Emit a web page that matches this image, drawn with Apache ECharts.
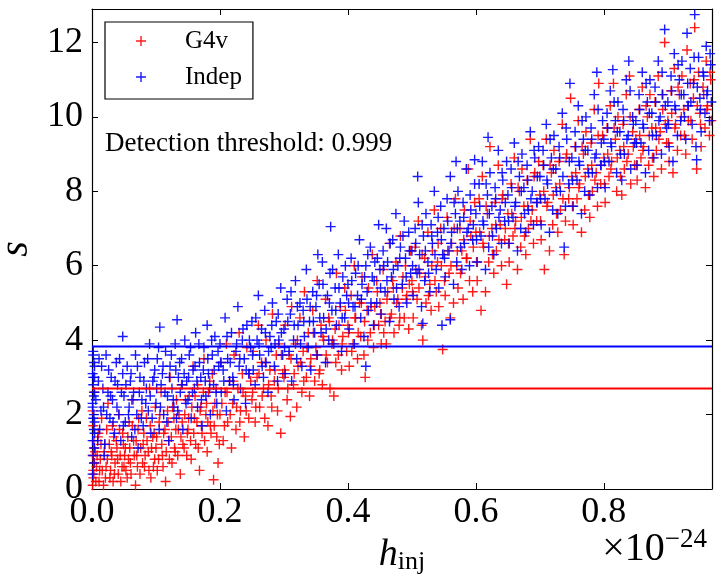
<!DOCTYPE html>
<html lang="en">
<head>
    <meta charset="UTF-8">
    <title>Detection threshold</title>
    <script src="https://cdn.jsdelivr.net/npm/echarts@6/dist/echarts.min.js"></script>
    <style>
        html, body { margin: 0; padding: 0; background: #fff; }
        #container { width: 722px; height: 584px; }
    </style>
</head>
<body>
<div id="container"></div>
<script>
    // h_inj in units of 1e-24, s = statistic
    var xTicks = [0, 0.2, 0.4, 0.6, 0.8];
    var yTicks = [0, 2, 4, 6, 8, 10, 12];
    var thresholdIndep = 3.83;
    var thresholdG4v = 2.70;

    var indepPoints = [
        [0.001,0.4],[0.002,0.9],[0.001,1.3],[0.003,1.6],[0.002,1.9],[0.001,2.2],[0.003,2.5],[0.002,2.8],[0.001,3.1],[0.003,3.4],
        [0.002,3.7],[0.004,1.1],[0.003,2.0],[0.004,2.6],[0.002,3.0],[0.003,0.7],[0.004,1.5],[0.001,2.3],[0.004,3.3],[0.002,3.6],
        [0.01,2.9],[0.012,1.6],[0.015,3.3],[0.018,2.2],[0.02,1.2],[0.022,3.6],[0.025,2.6],[0.028,1.9],[0.03,3.0],[0.032,2.4],
        [0.035,1.5],[0.038,3.4],[0.04,2.8],[0.042,2.0],[0.045,1.3],[0.048,3.1],[0.05,2.5],[0.048,4.1],
        [0.052,1.8],[0.055,3.3],[0.058,2.2],[0.06,2.9],[0.062,1.4],[0.065,2.6],[0.068,3.6],[0.07,2.0],[0.072,1.1],[0.075,3.0],
        [0.078,2.4],[0.08,1.7],[0.082,3.4],[0.085,2.7],[0.088,2.1],[0.09,3.9],[0.092,1.5],[0.095,2.9],[0.098,3.2],
        [0.1,2.3],[0.102,3.5],[0.105,1.6],[0.106,4.35],[0.108,2.8],[0.11,3.1],[0.112,2.0],[0.115,3.7],[0.118,2.5],[0.12,1.3],
        [0.122,3.3],[0.125,2.7],[0.128,2.2],[0.13,3.9],[0.132,1.9],[0.133,4.55],[0.135,3.0],[0.138,2.6],[0.14,3.5],[0.142,1.6],
        [0.145,4.0],[0.148,2.9],
        [0.15,2.4],[0.152,3.6],[0.155,1.9],[0.158,3.2],[0.16,2.7],[0.162,4.2],[0.165,2.2],[0.168,3.4],[0.17,3.0],[0.172,1.7],
        [0.175,3.8],[0.178,2.5],[0.18,4.4],[0.182,3.1],[0.185,2.0],[0.188,3.6],[0.19,2.8],[0.192,4.1],[0.195,2.3],[0.198,3.3],
        [0.2,3.9],[0.202,2.6],[0.205,3.2],[0.208,4.6],[0.21,2.1],[0.212,3.5],[0.215,2.9],[0.218,4.2],[0.22,3.0],[0.222,2.4],
        [0.225,3.7],[0.228,4.9],[0.23,3.3],[0.232,2.7],[0.235,4.0],[0.238,3.5],[0.24,2.3],[0.242,4.4],[0.245,3.1],[0.248,3.8],
        [0.25,4.5],[0.252,3.2],[0.255,2.8],[0.258,4.0],[0.26,5.2],[0.262,3.6],[0.265,4.3],[0.268,3.0],[0.27,4.8],[0.272,3.4],
        [0.275,2.6],[0.278,4.1],[0.28,3.8],[0.282,5.0],[0.285,3.3],[0.288,4.5],[0.29,2.9],[0.292,4.0],[0.295,5.4],[0.298,3.6],
        [0.3,4.3],[0.302,3.1],[0.305,5.1],[0.308,3.7],[0.31,4.7],[0.312,2.9],[0.315,4.0],[0.318,5.6],[0.32,3.5],[0.322,4.4],
        [0.325,5.0],[0.328,3.3],[0.33,4.8],[0.332,4.1],[0.335,5.9],[0.338,3.8],[0.34,4.5],[0.342,3.2],[0.345,5.3],[0.348,4.2],
        [0.35,4.9],[0.352,3.6],[0.353,6.3],[0.355,5.5],[0.358,4.2],[0.36,6.1],[0.362,4.6],[0.365,3.4],[0.368,5.2],[0.37,4.0],
        [0.372,5.8],[0.373,7.05],[0.375,4.8],[0.378,3.9],[0.38,5.4],[0.382,4.4],[0.385,6.3],[0.388,5.0],[0.39,3.7],[0.392,5.7],
        [0.395,4.6],[0.398,5.2],
        [0.4,5.5],[0.402,4.3],[0.405,6.2],[0.408,4.9],[0.41,3.9],[0.412,5.8],[0.415,5.2],[0.418,6.7],[0.42,4.6],[0.422,5.5],
        [0.425,4.1],[0.428,3.3],[0.428,6.0],[0.43,5.3],[0.432,4.8],[0.435,6.5],[0.438,5.7],[0.44,4.4],[0.442,6.1],[0.445,5.0],
        [0.448,7.1],
        [0.45,5.9],[0.452,4.7],[0.455,6.4],[0.458,5.3],[0.46,7.0],[0.462,6.1],[0.465,4.5],[0.468,5.7],[0.47,6.7],[0.472,5.1],
        [0.475,7.4],[0.478,6.0],[0.48,4.9],[0.482,6.5],[0.485,5.5],[0.488,7.2],[0.49,6.2],[0.492,5.0],[0.495,6.9],[0.498,5.8],
        [0.5,6.4],[0.502,5.2],[0.505,7.0],[0.508,5.8],[0.509,8.4],[0.51,7.7],[0.512,6.3],[0.515,4.9],[0.517,4.45],[0.518,6.8],
        [0.52,5.6],[0.522,7.4],[0.525,6.1],[0.528,5.3],[0.53,7.1],[0.532,6.6],[0.535,8.0],[0.538,5.9],[0.54,6.9],[0.542,5.4],
        [0.545,7.6],[0.547,4.4],[0.548,6.3],
        [0.55,7.0],[0.552,5.7],[0.555,7.8],[0.558,6.4],[0.56,8.4],[0.56,4.55],[0.562,6.9],[0.565,5.5],[0.568,7.4],[0.569,8.8],
        [0.57,6.1],[0.572,8.0],[0.575,7.2],[0.578,5.9],[0.58,7.7],[0.582,6.6],[0.585,8.6],[0.588,7.0],[0.59,6.0],[0.592,7.5],
        [0.595,6.7],[0.598,8.2],[0.598,8.85],
        [0.6,7.4],[0.602,6.1],[0.605,8.2],[0.608,6.8],[0.61,8.8],[0.612,7.1],[0.615,5.9],[0.618,7.9],[0.619,9.45],[0.62,6.5],
        [0.622,8.5],[0.625,7.6],[0.628,6.3],[0.63,8.1],[0.632,7.0],[0.635,9.1],[0.638,7.5],[0.64,6.6],[0.642,8.3],[0.645,7.2],
        [0.648,8.8],
        [0.65,7.9],[0.652,6.6],[0.655,8.6],[0.658,7.3],[0.66,9.3],[0.662,7.7],[0.665,6.4],[0.668,8.4],[0.67,7.0],[0.672,9.0],
        [0.675,8.1],[0.678,6.9],[0.68,8.7],[0.682,7.5],[0.685,9.6],[0.688,8.0],[0.69,7.1],[0.692,8.9],[0.695,7.7],[0.698,9.2],
        [0.7,8.4],[0.702,7.1],[0.705,9.1],[0.708,7.8],[0.71,9.8],[0.712,8.2],[0.715,6.9],[0.718,8.9],[0.72,7.5],[0.722,9.5],
        [0.725,8.6],[0.728,7.4],[0.73,9.2],[0.732,8.0],[0.735,10.1],[0.738,6.5],[0.74,7.6],[0.742,9.4],[0.745,8.2],[0.747,10.9],
        [0.75,8.9],[0.752,7.6],[0.755,9.6],[0.758,8.3],[0.76,10.3],[0.762,8.7],[0.765,7.4],[0.768,9.4],[0.77,8.0],[0.772,10.0],
        [0.775,9.1],[0.778,7.9],[0.78,9.7],[0.782,8.5],[0.785,10.6],[0.788,9.0],[0.789,11.2],[0.79,8.1],[0.795,8.7],[0.798,9.9],
        [0.8,9.4],[0.802,8.1],[0.805,10.1],[0.808,8.8],[0.81,10.7],[0.812,9.2],[0.814,11.27],[0.818,9.9],[0.82,8.5],[0.822,10.4],
        [0.825,9.6],[0.828,8.3],[0.83,10.2],[0.832,9.0],[0.835,11.0],[0.838,9.5],[0.839,11.5],[0.842,8.6],[0.845,10.0],[0.848,9.3],
        [0.85,9.9],[0.852,8.7],[0.855,10.6],[0.858,9.3],[0.86,11.2],[0.862,9.7],[0.865,8.5],[0.868,10.4],[0.87,9.1],[0.872,11.0],
        [0.875,10.1],[0.878,8.9],[0.88,10.8],[0.882,9.5],[0.885,11.5],[0.888,10.0],[0.89,9.0],[0.892,10.6],[0.895,12.35],[0.898,9.7],
        [0.9,10.4],[0.902,9.2],[0.905,11.1],[0.908,8.8],[0.91,11.7],[0.912,10.2],[0.915,9.5],[0.918,11.0],[0.92,9.9],[0.922,11.5],
        [0.925,10.6],[0.928,9.4],[0.93,12.25],[0.932,10.3],[0.935,11.3],[0.938,9.8],[0.94,10.9],[0.942,12.75],[0.945,8.85],[0.944,9.2],
        [0.948,11.6],[0.95,10.5],[0.952,9.6],[0.955,11.2],[0.958,10.1],[0.96,11.9],[0.962,10.7],[0.965,9.9],[0.967,11.4],
        // denser core of the band
        [0.004,1.8],[0.004,3.0],[0.006,2.4],[0.009,1.3],[0.011,3.5],[0.014,2.1],[0.017,2.7],[0.019,0.9],[0.023,2.0],[0.026,3.2],
        [0.029,2.5],[0.033,1.8],[0.036,2.9],[0.039,2.2],[0.043,3.5],[0.046,2.6],[0.049,1.7],[0.053,2.8],[0.057,2.0],[0.061,3.1],
        [0.064,2.4],[0.067,1.6],[0.071,3.3],[0.074,2.6],[0.077,1.9],[0.081,2.9],[0.084,2.3],[0.087,3.5],[0.091,2.5],[0.094,1.9],
        [0.097,3.0],[0.101,2.7],[0.104,3.8],[0.107,2.2],[0.111,3.3],[0.114,2.6],[0.117,1.8],[0.121,3.0],[0.124,3.6],[0.127,2.4],
        [0.131,3.2],[0.134,2.1],[0.137,3.4],[0.141,2.8],[0.144,3.1],[0.147,2.3],[0.151,3.0],[0.154,3.8],[0.157,2.6],[0.161,3.3],
        [0.164,2.9],[0.167,3.9],[0.171,2.4],[0.174,3.2],[0.177,2.9],[0.181,3.5],[0.184,2.7],[0.187,4.0],[0.191,3.2],[0.194,2.6],
        [0.197,3.7],[0.201,3.4],[0.206,2.9],[0.211,4.1],[0.216,3.4],[0.221,2.8],[0.226,3.9],[0.231,3.5],[0.236,4.3],[0.241,3.2],
        [0.246,4.0],[0.251,3.6],[0.256,4.6],[0.261,3.9],[0.266,3.3],[0.271,4.2],[0.276,3.7],[0.281,4.4],[0.286,3.9],[0.291,4.7],
        [0.296,4.2],[0.301,3.8],[0.306,4.5],[0.311,5.3],[0.316,4.4],[0.321,4.9],[0.326,3.9],[0.331,4.5],[0.336,5.1],[0.341,4.9],
        [0.346,4.5],[0.351,5.2],[0.356,4.6],[0.361,5.5],[0.366,4.3],[0.371,5.0],[0.376,5.9],[0.381,4.8],[0.386,5.4],[0.391,4.6],
        [0.396,6.0],[0.401,5.0],[0.406,5.6],[0.411,4.9],[0.416,6.0],[0.421,5.1],[0.426,5.7],[0.431,6.3],[0.436,5.0],[0.441,5.6],
        [0.446,6.2],[0.451,5.4],[0.456,6.0],[0.461,5.6],[0.466,6.6],[0.471,5.9],[0.476,5.4],[0.481,6.2],[0.486,6.8],[0.491,5.7],
        [0.496,6.4],[0.501,6.0],[0.506,6.6],[0.511,5.9],[0.516,7.1],[0.521,6.4],[0.526,5.8],[0.531,6.8],[0.536,6.3],[0.541,7.3],
        [0.546,6.7],[0.551,6.2],[0.556,7.2],[0.561,6.6],[0.566,7.7],[0.571,7.0],[0.576,6.5],[0.581,7.3],[0.586,6.9],[0.591,7.9],
        [0.596,7.1],[0.601,6.7],[0.606,7.6],[0.611,7.2],[0.616,8.2],[0.621,7.4],[0.626,6.8],[0.631,7.8],[0.636,7.3],[0.641,8.5],
        [0.646,7.7],[0.651,7.2],[0.656,8.1],[0.661,7.6],[0.666,8.8],[0.671,8.0],[0.676,7.4],[0.681,8.3],[0.686,7.8],[0.691,9.1],
        [0.696,8.4],[0.701,7.8],[0.706,8.7],[0.711,8.3],[0.716,9.4],[0.721,8.6],[0.726,8.0],[0.731,8.9],[0.736,8.4],[0.741,9.7],
        [0.746,8.8],[0.751,8.3],[0.756,9.2],[0.761,8.8],[0.766,9.9],[0.771,9.1],[0.776,8.5],[0.781,9.4],[0.786,8.9],[0.791,10.2],
        [0.796,9.3],[0.801,8.8],[0.806,9.7],[0.811,9.3],[0.816,10.4],[0.821,9.6],[0.826,9.0],[0.831,9.9],[0.836,9.4],[0.841,10.7],
        [0.846,9.8],[0.851,9.3],[0.856,10.2],[0.861,9.8],[0.866,10.9],[0.871,10.1],[0.876,9.5],[0.881,10.4],[0.886,9.9],[0.891,11.2],
        [0.896,10.3],[0.901,9.8],[0.906,10.7],[0.911,10.3],[0.916,11.4],[0.921,10.6],[0.926,10.0],[0.931,10.9],[0.936,10.4],[0.941,11.6],
        [0.946,10.8],[0.951,10.2],[0.956,11.1],[0.961,10.6],[0.966,11.7],[0.968,10.4]
    ];

    var g4vPoints = [
        [0.001,0.1],[0.002,0.5],[0.001,0.9],[0.003,1.3],[0.002,1.7],[0.001,2.1],[0.003,2.6],[0.002,0.3],[0.004,0.7],[0.003,1.1],
        [0.006,0.2],[0.008,0.9],[0.01,1.5],[0.012,0.5],[0.015,1.9],[0.018,0.1],[0.02,1.2],[0.022,0.6],[0.025,2.3],[0.028,0.3],
        [0.03,1.0],[0.032,1.7],[0.035,0.4],[0.038,1.3],[0.04,0.8],[0.042,2.0],[0.045,0.2],[0.048,1.5],[0.05,0.6],
        [0.052,1.1],[0.055,0.3],[0.058,1.8],[0.06,0.7],[0.062,2.4],[0.065,1.3],[0.068,0.1],[0.07,0.9],[0.072,1.6],[0.075,0.4],
        [0.078,2.1],[0.08,1.2],[0.082,0.6],[0.085,1.9],[0.088,1.0],[0.09,2.7],[0.092,0.3],[0.095,1.4],[0.098,0.8],[0.099,2.2],
        [0.1,1.1],[0.102,0.5],[0.105,1.8],[0.108,2.6],[0.11,0.9],[0.112,1.5],[0.115,0.2],[0.118,2.1],[0.12,1.3],[0.122,3.0],
        [0.125,0.7],[0.128,1.9],[0.13,1.0],[0.132,2.4],[0.135,1.6],[0.138,0.4],[0.14,2.8],[0.142,1.2],[0.145,2.0],[0.148,0.9],
        [0.15,1.6],[0.152,2.5],[0.155,0.8],[0.158,3.3],[0.16,1.9],[0.162,1.2],[0.165,2.8],[0.168,0.5],[0.17,2.2],[0.172,1.5],
        [0.175,3.5],[0.178,2.0],[0.18,1.0],[0.182,2.6],[0.185,1.7],[0.188,3.1],[0.19,0.25],[0.192,2.3],[0.195,1.4],[0.197,0.7],
        [0.2,2.0],[0.202,3.4],[0.205,1.3],[0.208,2.6],[0.21,3.9],[0.212,1.8],[0.215,2.9],[0.218,1.1],[0.22,2.3],[0.222,3.6],
        [0.225,1.6],[0.228,2.7],[0.23,4.2],[0.232,2.1],[0.235,3.1],[0.238,1.4],[0.24,2.5],[0.242,3.8],[0.245,1.9],[0.248,2.9],
        [0.25,2.4],[0.252,3.7],[0.255,1.8],[0.258,3.0],[0.26,4.4],[0.262,2.2],[0.265,3.4],[0.268,2.7],[0.27,1.9],[0.272,4.0],
        [0.275,1.7],[0.278,3.2],[0.28,2.5],[0.282,4.7],[0.285,2.9],[0.288,3.6],[0.29,2.1],[0.292,3.9],[0.295,1.5],[0.298,3.1],
        [0.3,3.0],[0.302,4.4],[0.305,2.4],[0.308,3.6],[0.31,1.95],[0.312,4.9],[0.315,2.8],[0.318,3.9],[0.32,2.2],[0.322,3.3],
        [0.325,4.6],[0.328,2.6],[0.33,3.7],[0.332,5.3],[0.335,3.0],[0.338,4.2],[0.34,2.5],[0.342,3.5],[0.345,4.8],[0.348,2.9],
        [0.35,3.8],[0.352,5.6],[0.355,3.1],[0.358,4.4],[0.36,2.8],[0.362,4.0],[0.365,5.1],[0.368,3.4],[0.37,4.6],[0.372,2.7],
        [0.375,3.9],[0.378,2.5],[0.38,4.3],[0.382,5.8],[0.385,3.6],[0.388,4.9],[0.39,3.2],[0.392,4.1],[0.395,5.4],[0.398,3.7],
        [0.4,4.4],[0.402,3.3],[0.405,5.2],[0.408,3.9],[0.41,6.0],[0.412,4.6],[0.415,3.5],[0.418,5.0],[0.42,4.1],[0.422,5.7],
        [0.425,3.6],[0.427,3.0],[0.43,4.8],[0.432,5.4],[0.435,4.2],[0.438,6.3],[0.44,3.8],[0.442,4.9],[0.445,5.6],[0.448,4.4],
        [0.45,5.0],[0.452,3.9],[0.455,5.9],[0.458,4.5],[0.46,3.9],[0.462,5.3],[0.465,6.6],[0.468,4.7],[0.47,5.6],[0.472,4.2],
        [0.475,6.1],[0.478,5.1],[0.48,4.4],[0.482,6.8],[0.485,5.4],[0.488,4.6],[0.49,6.0],[0.492,5.2],[0.495,4.3],[0.498,6.4],
        [0.5,5.6],[0.502,4.6],[0.505,6.5],[0.508,5.1],[0.51,7.2],[0.512,5.8],[0.515,4.4],[0.517,4.0],[0.52,6.2],[0.522,5.0],
        [0.525,6.9],[0.528,5.5],[0.53,4.8],[0.532,6.4],[0.535,7.5],[0.538,5.3],[0.54,6.1],[0.542,4.9],[0.545,7.0],[0.548,3.75],
        [0.55,6.3],[0.552,5.2],[0.555,7.3],[0.558,5.8],[0.56,4.6],[0.562,6.6],[0.565,5.0],[0.568,7.8],[0.57,6.0],[0.572,5.4],
        [0.575,7.0],[0.578,6.4],[0.58,5.1],[0.582,7.5],[0.585,6.2],[0.588,8.6],[0.59,5.6],[0.592,6.8],[0.595,5.3],[0.598,7.7],
        [0.6,6.9],[0.602,5.6],[0.605,7.8],[0.608,4.8],[0.61,8.4],[0.612,6.5],[0.615,5.3],[0.618,7.4],[0.62,6.1],[0.622,9.2],
        [0.625,7.0],[0.628,5.8],[0.63,7.7],[0.632,6.4],[0.635,8.7],[0.638,7.1],[0.64,6.0],[0.642,7.9],[0.645,6.7],[0.648,5.5],
        [0.65,7.4],[0.652,6.1],[0.655,8.2],[0.658,6.8],[0.66,8.9],[0.662,7.2],[0.665,5.9],[0.668,8.0],[0.67,6.5],[0.672,8.6],
        [0.675,7.6],[0.678,6.3],[0.68,8.3],[0.682,7.0],[0.685,9.4],[0.688,7.5],[0.69,6.6],[0.692,8.5],[0.695,7.2],[0.698,8.8],
        [0.7,7.9],[0.702,6.7],[0.705,8.7],[0.707,5.9],[0.71,9.4],[0.712,7.7],[0.715,6.4],[0.718,8.5],[0.72,7.1],[0.722,9.1],
        [0.725,8.1],[0.728,6.9],[0.73,8.8],[0.732,7.5],[0.735,9.8],[0.738,6.3],[0.74,7.2],[0.742,9.0],[0.745,7.8],[0.748,10.5],
        [0.75,8.4],[0.752,7.1],[0.755,9.2],[0.758,7.8],[0.76,9.9],[0.762,8.2],[0.765,6.9],[0.768,9.0],[0.77,7.5],[0.772,9.6],
        [0.775,8.6],[0.778,7.3],[0.78,9.3],[0.782,8.0],[0.785,10.2],[0.788,8.5],[0.79,7.6],[0.792,10.9],[0.795,8.2],[0.798,9.5],
        [0.8,8.9],[0.802,7.7],[0.805,9.7],[0.808,8.4],[0.81,10.3],[0.812,8.8],[0.815,10.9],[0.818,9.4],[0.82,8.0],[0.822,10.0],
        [0.825,9.1],[0.828,7.9],[0.83,9.8],[0.832,8.6],[0.835,10.6],[0.838,9.0],[0.84,11.1],[0.842,8.2],[0.845,9.6],[0.848,8.7],
        [0.85,9.4],[0.852,8.3],[0.855,10.2],[0.858,8.9],[0.86,10.8],[0.862,9.2],[0.865,8.1],[0.868,10.0],[0.87,8.7],[0.872,10.6],
        [0.875,9.7],[0.878,8.4],[0.88,10.4],[0.882,9.1],[0.885,11.1],[0.888,9.6],[0.89,8.6],[0.892,10.2],[0.895,12.0],[0.898,9.3],
        [0.9,9.9],[0.902,8.8],[0.905,10.7],[0.908,8.5],[0.91,11.3],[0.912,9.8],[0.915,9.1],[0.918,10.6],[0.92,9.5],[0.922,11.1],
        [0.925,10.2],[0.928,9.0],[0.93,11.8],[0.932,9.9],[0.935,10.9],[0.938,9.4],[0.94,10.5],[0.942,12.4],[0.945,8.6],[0.948,11.2],
        [0.95,10.1],[0.952,9.2],[0.955,10.8],[0.958,9.7],[0.96,11.5],[0.962,10.3],[0.965,9.5],[0.967,11.0],
        // denser core, and the low cluster near the origin
        [0.003,0.4],[0.005,1.0],[0.007,0.6],[0.009,1.4],[0.011,0.2],[0.013,0.8],[0.014,1.2],[0.016,0.5],[0.019,1.0],[0.021,0.3],
        [0.023,1.6],[0.024,0.8],[0.027,1.2],[0.029,0.5],[0.031,0.9],[0.033,0.2],[0.034,1.4],[0.036,0.7],[0.039,1.1],[0.041,0.4],
        [0.043,1.6],[0.044,0.9],[0.047,0.6],[0.049,1.2],[0.051,0.9],[0.053,0.5],[0.056,1.4],[0.057,0.8],[0.059,1.1],[0.061,0.4],
        [0.063,1.7],[0.066,0.9],[0.069,1.3],[0.071,0.6],[0.073,1.9],[0.076,1.1],[0.079,0.7],[0.081,1.5],[0.083,0.9],[0.086,1.3],
        [0.089,0.5],[0.091,1.7],[0.093,1.1],[0.096,0.6],[0.097,1.5],[0.101,1.4],[0.104,0.8],[0.106,2.0],[0.109,1.2],[0.111,0.6],
        [0.114,1.6],[0.116,1.0],[0.119,1.8],[0.121,0.8],[0.124,1.4],[0.126,2.2],[0.129,1.1],[0.131,1.6],[0.134,0.9],[0.136,2.0],
        [0.139,1.4],[0.141,1.8],[0.144,1.1],[0.146,2.4],[0.149,1.5],[0.151,1.9],[0.154,1.3],[0.156,2.2],[0.159,1.5],[0.161,2.5],
        [0.164,1.8],[0.166,1.1],[0.169,2.1],[0.171,1.7],[0.174,2.6],[0.176,1.3],[0.179,2.3],[0.181,1.8],[0.184,2.9],[0.186,1.5],
        [0.189,2.1],[0.191,1.7],[0.194,2.7],[0.196,2.0],[0.199,1.2],[0.203,2.3],[0.207,1.7],[0.211,2.6],[0.216,2.0],[0.221,2.9],
        [0.226,2.2],[0.231,1.8],[0.236,2.6],[0.241,2.1],[0.246,3.1],[0.251,2.6],[0.256,2.2],[0.261,3.1],[0.266,2.5],[0.271,3.4],
        [0.276,2.8],[0.281,2.2],[0.286,3.2],[0.291,2.7],[0.296,3.6],[0.301,3.2],[0.306,2.7],[0.311,3.5],[0.316,3.1],[0.321,4.0],
        [0.326,3.4],[0.331,2.9],[0.336,3.8],[0.341,3.3],[0.346,4.2],[0.351,3.6],[0.356,3.2],[0.361,4.1],[0.366,3.6],[0.371,4.5],
        [0.376,4.0],[0.381,3.4],[0.386,4.4],[0.391,3.9],[0.396,4.8],[0.401,4.2],[0.406,3.7],[0.411,4.6],[0.416,4.2],[0.421,5.0],
        [0.426,4.5],[0.431,4.0],[0.436,4.9],[0.441,4.4],[0.446,5.3],[0.451,4.7],[0.456,4.2],[0.461,5.1],[0.466,4.6],[0.471,5.4],
        [0.476,5.0],[0.481,4.6],[0.486,5.7],[0.491,5.1],[0.496,5.5],[0.501,5.3],[0.506,5.9],[0.511,5.4],[0.516,6.3],[0.521,5.7],
        [0.526,5.2],[0.531,6.0],[0.536,5.6],[0.541,6.6],[0.546,6.0],[0.551,5.6],[0.556,6.4],[0.561,6.0],[0.566,7.0],[0.571,6.4],
        [0.576,5.8],[0.581,6.7],[0.586,6.2],[0.591,7.2],[0.596,6.5],[0.601,6.1],[0.606,6.9],[0.611,6.6],[0.616,7.6],[0.621,6.8],
        [0.626,6.3],[0.631,7.1],[0.636,6.7],[0.641,7.8],[0.646,7.0],[0.651,6.6],[0.656,7.4],[0.661,7.0],[0.666,8.1],[0.671,7.3],
        [0.676,6.8],[0.681,7.6],[0.686,7.2],[0.691,8.4],[0.696,7.7],[0.701,7.2],[0.706,8.0],[0.711,7.6],[0.716,8.7],[0.721,7.9],
        [0.726,7.4],[0.731,8.2],[0.736,7.8],[0.741,8.9],[0.746,8.1],[0.751,7.6],[0.756,8.5],[0.761,8.1],[0.766,9.2],[0.771,8.4],
        [0.776,7.9],[0.781,8.7],[0.786,8.3],[0.791,9.5],[0.796,8.7],[0.801,8.2],[0.806,9.0],[0.811,8.6],[0.816,9.7],[0.821,8.9],
        [0.826,8.4],[0.831,9.2],[0.836,8.8],[0.841,10.0],[0.846,9.2],[0.851,8.7],[0.856,9.5],[0.861,9.1],[0.866,10.3],[0.871,9.5],
        [0.876,8.9],[0.881,9.7],[0.886,9.4],[0.891,10.6],[0.896,9.8],[0.901,9.3],[0.906,10.1],[0.911,9.7],[0.916,10.8],[0.921,10.0],
        [0.926,9.5],[0.931,10.3],[0.936,9.9],[0.941,11.0],[0.946,10.3],[0.951,9.8],[0.956,10.6],[0.961,10.2],[0.966,11.2],[0.968,9.9]
    ];

    var xMin = 0, xMax = 0.969;
    var yMin = 0, yMax = 12.9;

    var plusMark = 'path://M4.3,0L5.7,0L5.7,4.3L10,4.3L10,5.7L5.7,5.7L5.7,10L4.3,10L4.3,5.7L0,5.7L0,4.3L4.3,4.3Z';
    var serif = "'Liberation Serif', 'DejaVu Serif', serif";

    var myChart = echarts.init(document.getElementById('container'), null, { renderer: 'canvas' });

    function frameAxis(pos, isX) {
        return {
            type: 'value',
            position: pos,
            min: isX ? xMin : yMin,
            max: isX ? xMax : yMax,
            interval: isX ? 0.2 : 2,
            axisLine: { show: true, onZero: false, lineStyle: { color: '#000', width: 1.2 } },
            axisTick: { show: true, inside: true, length: 6, lineStyle: { color: '#000', width: 1 } },
            axisLabel: { show: false },
            splitLine: { show: false }
        };
    }

    var option = {
        animation: false,
        backgroundColor: '#fff',
        grid: { left: 92, right: 10, top: 9, bottom: 95, containLabel: false, outerBoundsMode: 'none' },
        legend: {
            data: ['G4v', 'Indep'],
            orient: 'vertical',
            left: 105,
            top: 22,
            padding: [5, 11, 8, 31],
            itemGap: 8,
            itemWidth: 10,
            itemHeight: 10,
            borderColor: '#000',
            borderWidth: 1.2,
            borderRadius: 0,
            textStyle: { fontFamily: serif, fontSize: 25, color: '#000', lineHeight: 28, padding: [0, 0, 0, 34] }
        },
        graphic: [
            {
                type: 'text', left: 105, top: 130,
                style: { text: 'Detection threshold: 0.999', font: "27px 'Liberation Serif', serif", fill: '#000' }
            },
            {
                type: 'text', right: 15, top: 526,
                style: {
                    text: '{a|×10}{b|−24}',
                    rich: {
                        a: { fontFamily: serif, fontSize: 40, color: '#000', verticalAlign: 'bottom' },
                        b: { fontFamily: serif, fontSize: 27, color: '#000', verticalAlign: 'top', padding: [0, 0, 16, 0] }
                    }
                }
            }
        ],
        xAxis: [
            {
                type: 'value',
                position: 'bottom',
                min: xMin,
                max: xMax,
                interval: 0.2,
                name: '{h|h}{s|inj}',
                nameLocation: 'middle',
                nameGap: 34,
                nameTextStyle: {
                    rich: {
                        h: { fontFamily: serif, fontStyle: 'italic', fontSize: 38, color: '#000' },
                        s: { fontFamily: serif, fontSize: 26, color: '#000', padding: [14, 0, 0, 0] }
                    }
                },
                axisLine: { show: true, onZero: false, lineStyle: { color: '#000', width: 1.2 } },
                axisTick: { show: true, inside: true, length: 6, lineStyle: { color: '#000', width: 1 } },
                axisLabel: {
                    fontFamily: serif, fontSize: 36, color: '#000', margin: 6,
                    showMaxLabel: false,
                    formatter: function (v) { return xTicks.indexOf(Math.round(v * 10) / 10) >= 0 ? v.toFixed(1) : ''; }
                },
                splitLine: { show: false }
            },
            frameAxis('top', true)
        ],
        yAxis: [
            {
                type: 'value',
                position: 'left',
                min: yMin,
                max: yMax,
                interval: 2,
                name: 's',
                nameLocation: 'middle',
                nameRotate: 90,
                nameGap: 54,
                nameTextStyle: { fontFamily: serif, fontStyle: 'italic', fontSize: 40, color: '#000' },
                axisLine: { show: true, onZero: false, lineStyle: { color: '#000', width: 1.2 } },
                axisTick: { show: true, inside: true, length: 6, lineStyle: { color: '#000', width: 1 } },
                axisLabel: {
                    fontFamily: serif, fontSize: 36, color: '#000', margin: 9,
                    showMaxLabel: false,
                    formatter: function (v) { return yTicks.indexOf(v) >= 0 ? String(v) : ''; }
                },
                splitLine: { show: false }
            },
            frameAxis('right', false)
        ],
        series: [
            {
                name: 'G4v',
                type: 'scatter',
                data: g4vPoints,
                symbol: plusMark,
                symbolSize: 10,
                itemStyle: { color: '#ff0000', opacity: 0.9 },
                z: 2
            },
            {
                name: 'Indep',
                type: 'scatter',
                data: indepPoints,
                symbol: plusMark,
                symbolSize: 10,
                itemStyle: { color: '#0000ff', opacity: 0.9 },
                z: 3
            },
            {
                name: 'G4v threshold',
                type: 'line',
                data: [[xMin, thresholdG4v], [xMax, thresholdG4v]],
                symbol: 'none',
                lineStyle: { color: '#ff0000', width: 2 },
                z: 4
            },
            {
                name: 'Indep threshold',
                type: 'line',
                data: [[xMin, thresholdIndep], [xMax, thresholdIndep]],
                symbol: 'none',
                lineStyle: { color: '#0000ff', width: 2 },
                z: 4
            }
        ]
    };

    myChart.setOption(option);
</script>
</body>
</html>
